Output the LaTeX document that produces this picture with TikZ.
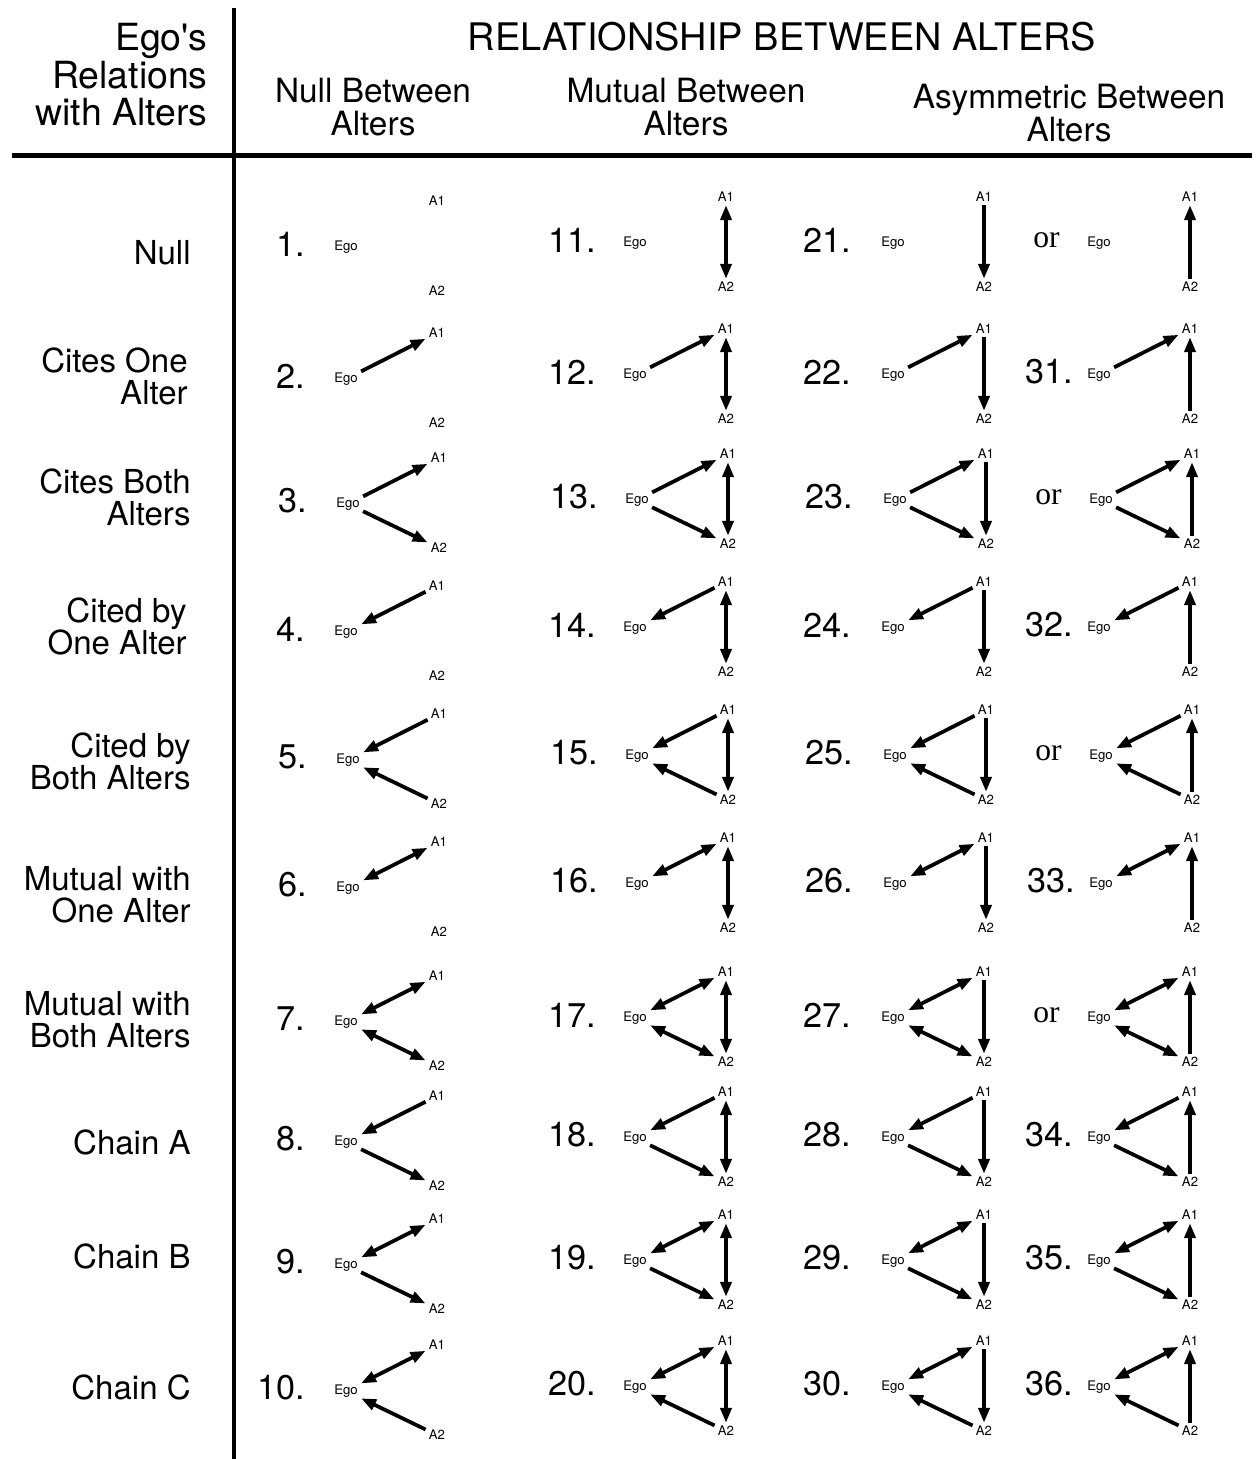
\documentclass[tikz,border=0pt]{standalone}
\usepackage{fontspec}
\setmainfont{TeX Gyre Heros}
\newfontfamily\orfont{Liberation Serif}
\usetikzlibrary{arrows.meta}

% one triad: id, x, y, label, label offset, ego-a1, ego-a2, a1-a2
\newcommand{\triad}[8]{%
  \node[vertex] (#1ego) at (#2,#3) {Ego};
  \node[vertex] (#1a1) at (#2+91,#3-46) {A1};
  \node[vertex] (#1a2) at (#2+91,#3+44) {A2};
  \node[numlabel] (#1num) at (#2-#5,#3-3) {#4};
  \draw[tie, #6] (#1ego) -- (#1a1);
  \draw[tie, #7] (#1ego) -- (#1a2);
  \draw[tie, #8] (#1a1) -- (#1a2);
}
\newcommand{\ortext}{{\orfont\fontsize{18}{20}\selectfont or}}

\begin{document}
\begin{tikzpicture}[x=0.02cm, y=-0.02cm,
    vertex/.style={inner sep=0.06cm, font=\fontsize{7.5}{9}\selectfont},
    numlabel/.style={anchor=east, inner sep=0pt, font=\fontsize{19.5}{22}\selectfont},
    rowlabel/.style={anchor=east, align=right, inner sep=0pt, font=\fontsize{18.8}{18.2}\selectfont},
    colhead/.style={align=center, inner sep=0pt, font=\fontsize{19}{18.8}\selectfont},
    tie/.style={line width=0.075cm},
    cite/.style={-{Triangle[length=0.3cm, width=0.22cm]}},
    citedby/.style={{Triangle[length=0.3cm, width=0.22cm]}-},
    mutual/.style={{Triangle[length=0.3cm, width=0.22cm]}-{Triangle[length=0.3cm, width=0.22cm]}},
    nolink/.style={draw=none}]
\useasboundingbox (0,0) rectangle (1255,1459);

% rules
\draw[line width=0.08cm] (234,8) -- (234,1459);
\draw[line width=0.1cm] (12,155.5) -- (1252,155.5);

% headings
\node[rowlabel, font=\fontsize{21.3}{21.3}\selectfont] (egohead) at (208,75) {Ego\textquotesingle s\\Relations\\with Alters};
\node[inner sep=0pt, font=\fontsize{21.6}{24}\selectfont] (title) at (782,37) {RELATIONSHIP BETWEEN ALTERS};
\node[colhead] (nullhead) at (373,107) {Null Between\\Alters};
\node[colhead] (mutualhead) at (686,107) {Mutual Between\\Alters};
\node[colhead] (asymhead) at (1069,113) {Asymmetric Between\\Alters};

% row labels
\node[rowlabel] (row1) at (191,253) {Null};
\node[rowlabel] (row2) at (188,376) {Cites One\\Alter};
\node[rowlabel] (row3) at (191,497) {Cites Both\\Alters};
\node[rowlabel] (row4) at (187,626) {Cited by\\One Alter};
\node[rowlabel] (row5) at (191,761) {Cited by\\Both Alters};
\node[rowlabel] (row6) at (191,895) {Mutual with\\One Alter};
\node[rowlabel] (row7) at (191,1020) {Mutual with\\Both Alters};
\node[rowlabel] (row8) at (191,1142) {Chain A};
\node[rowlabel] (row9) at (191,1256) {Chain B};
\node[rowlabel] (row10) at (191,1387) {Chain C};

% null between alters
\triad{t1}{346}{247}{1.}{41}{nolink}{nolink}{nolink}
\triad{t2}{346}{379}{2.}{41}{cite}{nolink}{nolink}
\triad{t3}{348}{504}{3.}{41}{cite}{cite}{nolink}
\triad{t4}{346}{632}{4.}{41}{citedby}{nolink}{nolink}
\triad{t5}{348}{760}{5.}{41}{citedby}{citedby}{nolink}
\triad{t6}{348}{888}{6.}{41}{mutual}{nolink}{nolink}
\triad{t7}{346}{1022}{7.}{41}{mutual}{mutual}{nolink}
\triad{t8}{346}{1142}{8.}{41}{citedby}{cite}{nolink}
\triad{t9}{346}{1265}{9.}{41}{mutual}{cite}{nolink}
\triad{t10}{346}{1391}{10.}{41}{mutual}{citedby}{nolink}

% mutual between alters
\triad{t11}{635}{243}{11.}{39}{nolink}{nolink}{mutual}
\triad{t12}{635}{375}{12.}{39}{cite}{nolink}{mutual}
\triad{t13}{637}{500}{13.}{39}{cite}{cite}{mutual}
\triad{t14}{635}{628}{14.}{39}{citedby}{nolink}{mutual}
\triad{t15}{637}{756}{15.}{39}{citedby}{citedby}{mutual}
\triad{t16}{637}{884}{16.}{39}{mutual}{nolink}{mutual}
\triad{t17}{635}{1018}{17.}{39}{mutual}{mutual}{mutual}
\triad{t18}{635}{1138}{18.}{39}{citedby}{cite}{mutual}
\triad{t19}{635}{1261}{19.}{39}{mutual}{cite}{mutual}
\triad{t20}{635}{1387}{20.}{39}{mutual}{citedby}{mutual}

% asymmetric between alters
\triad{t21}{893}{243}{21.}{42}{nolink}{nolink}{cite}
\triad{t22}{893}{375}{22.}{42}{cite}{nolink}{cite}
\triad{t23}{895}{500}{23.}{42}{cite}{cite}{cite}
\triad{t24}{893}{628}{24.}{42}{citedby}{nolink}{cite}
\triad{t25}{895}{756}{25.}{42}{citedby}{citedby}{cite}
\triad{t26}{895}{884}{26.}{42}{mutual}{nolink}{cite}
\triad{t27}{893}{1018}{27.}{42}{mutual}{mutual}{cite}
\triad{t28}{893}{1138}{28.}{42}{citedby}{cite}{cite}
\triad{t29}{893}{1261}{29.}{42}{mutual}{cite}{cite}
\triad{t30}{893}{1387}{30.}{42}{mutual}{citedby}{cite}

\triad{t21x}{1099}{243}{\ortext}{39}{nolink}{nolink}{citedby}
\triad{t31}{1099}{375}{31.}{26}{cite}{nolink}{citedby}
\triad{t23x}{1101}{500}{\ortext}{39}{cite}{cite}{citedby}
\triad{t32}{1099}{628}{32.}{26}{citedby}{nolink}{citedby}
\triad{t25x}{1101}{756}{\ortext}{39}{citedby}{citedby}{citedby}
\triad{t33}{1101}{884}{33.}{26}{mutual}{nolink}{citedby}
\triad{t27x}{1099}{1018}{\ortext}{39}{mutual}{mutual}{citedby}
\triad{t34}{1099}{1138}{34.}{26}{citedby}{cite}{citedby}
\triad{t35}{1099}{1261}{35.}{26}{mutual}{cite}{citedby}
\triad{t36}{1099}{1387}{36.}{26}{mutual}{citedby}{citedby}
\end{tikzpicture}
\end{document}
